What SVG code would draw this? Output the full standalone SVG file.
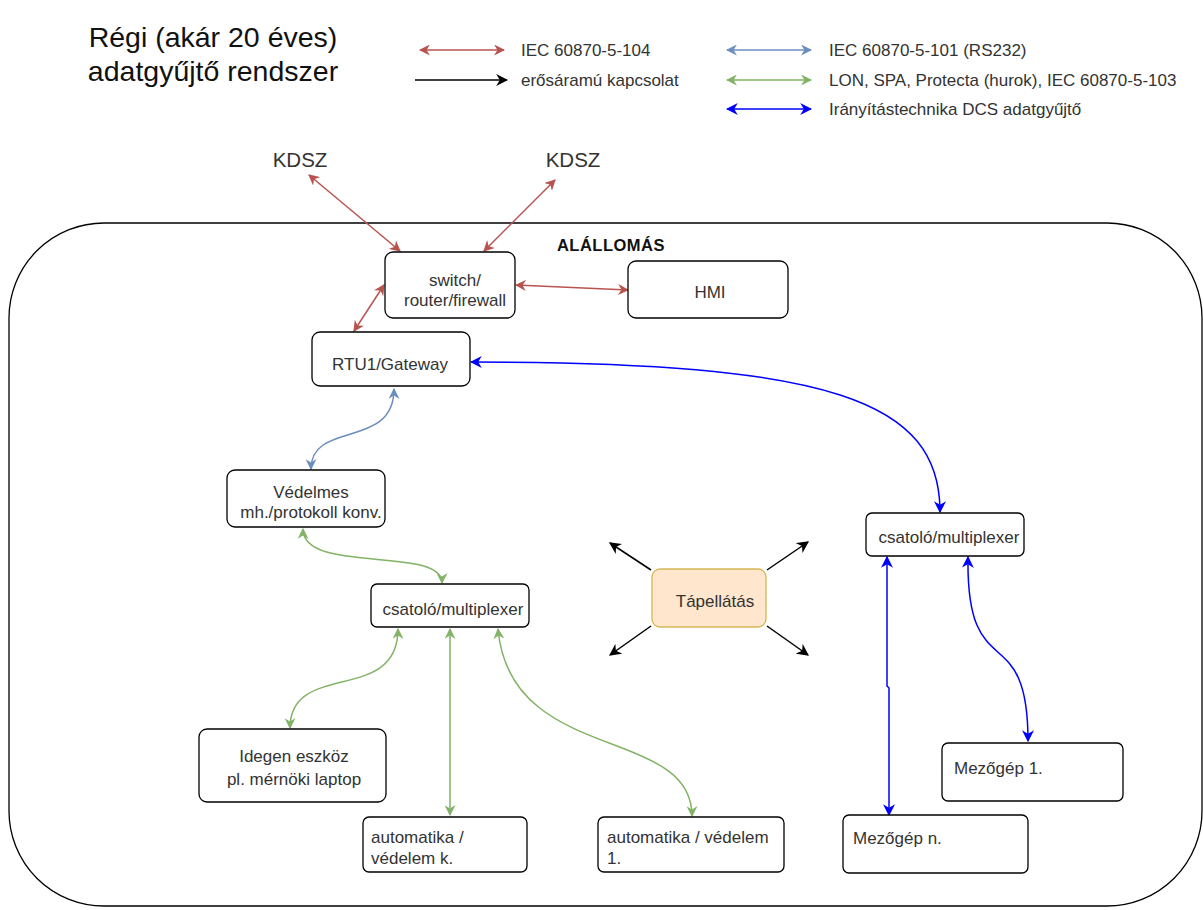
<svg xmlns="http://www.w3.org/2000/svg" width="1203" height="910" viewBox="0 0 1203 910">
  <style>
    .box { fill: #ffffff; stroke: #000000; stroke-width: 1.3; }
    .t { font-family: "Liberation Sans", Arial, sans-serif; font-size: 17px; fill: #333333; }
    .c { text-anchor: middle; }
    .kd { font-size: 20.5px; }
    .red { fill: none; stroke: #b85450; stroke-width: 1.5; marker-start: url(#mRed); marker-end: url(#mRed); }
    .rs { fill: none; stroke: #6c8ebf; stroke-width: 1.5; marker-start: url(#mRs); marker-end: url(#mRs); }
    .grn { fill: none; stroke: #82b366; stroke-width: 1.5; marker-start: url(#mGrn); marker-end: url(#mGrn); }
    .dcs { fill: none; stroke: #0000ff; stroke-width: 1.5; marker-start: url(#mDcs); marker-end: url(#mDcs); }
    .pwr { fill: none; stroke: #000000; stroke-width: 1.5; marker-end: url(#mBlk); }
  </style>
  <defs>
    <marker id="mRed" viewBox="0 0 10 10" refX="9" refY="5" markerWidth="11" markerHeight="11" markerUnits="userSpaceOnUse" orient="auto-start-reverse">
      <path d="M0,0 L10,5 L0,10 L3,5 Z" fill="#b85450"/>
    </marker>
    <marker id="mRs" viewBox="0 0 10 10" refX="9" refY="5" markerWidth="11" markerHeight="11" markerUnits="userSpaceOnUse" orient="auto-start-reverse">
      <path d="M0,0 L10,5 L0,10 L3,5 Z" fill="#6c8ebf"/>
    </marker>
    <marker id="mGrn" viewBox="0 0 10 10" refX="9" refY="5" markerWidth="11" markerHeight="11" markerUnits="userSpaceOnUse" orient="auto-start-reverse">
      <path d="M0,0 L10,5 L0,10 L3,5 Z" fill="#82b366"/>
    </marker>
    <marker id="mDcs" viewBox="0 0 10 10" refX="9" refY="5" markerWidth="12" markerHeight="12" markerUnits="userSpaceOnUse" orient="auto-start-reverse">
      <path d="M0,0 L10,5 L0,10 L3,5 Z" fill="#0000ff"/>
    </marker>
    <marker id="mBlk" viewBox="0 0 10 10" refX="9" refY="5" markerWidth="12" markerHeight="12" markerUnits="userSpaceOnUse" orient="auto-start-reverse">
      <path d="M0,0 L10,5 L0,10 L3,5 Z" fill="#000000"/>
    </marker>
  </defs>

  <rect width="1203" height="910" fill="#ffffff"/>

  <!-- Title -->
  <g id="title" font-family="Liberation Sans, Arial, sans-serif" font-size="28.5" fill="#111111" text-anchor="middle">
    <text x="213" y="47">Régi (akár 20 éves)</text>
    <text x="213" y="81">adatgyűjtő rendszer</text>
  </g>

  <!-- Legend -->
  <g id="legend">
    <line class="red" x1="420" y1="50" x2="504" y2="50"/>
    <text class="t" x="521" y="56">IEC 60870-5-104</text>
    <line class="pwr" x1="415" y1="80" x2="507" y2="80"/>
    <text class="t" x="521" y="86">erősáramú kapcsolat</text>
    <line class="rs" x1="727" y1="50" x2="811" y2="50"/>
    <text class="t" x="829" y="56">IEC 60870-5-101 (RS232)</text>
    <line class="grn" x1="727" y1="80" x2="811" y2="80"/>
    <text class="t" x="829" y="86">LON, SPA, Protecta (hurok), IEC 60870-5-103</text>
    <line class="dcs" x1="727" y1="109" x2="811" y2="109"/>
    <text class="t" x="829" y="115">Irányítástechnika DCS adatgyűjtő</text>
  </g>

  <!-- Substation boundary -->
  <g id="alallomas">
    <rect x="9" y="223" width="1193" height="683" rx="95" ry="95" fill="none" stroke="#000000" stroke-width="1.3"/>
    <text x="611" y="251" font-family="Liberation Sans, Arial, sans-serif" font-size="16.5" font-weight="bold" letter-spacing="0.5" fill="#111111" text-anchor="middle">ALÁLLOMÁS</text>
  </g>

  <!-- External links -->
  <g id="kdsz1"><text class="t c kd" x="300" y="167">KDSZ</text></g>
  <g id="kdsz2"><text class="t c kd" x="573" y="167">KDSZ</text></g>

  <!-- Connectors -->
  <g id="connectors">
    <line class="red" x1="309" y1="175" x2="400" y2="251"/>
    <line class="red" x1="555" y1="180" x2="484" y2="251"/>
    <line class="red" x1="516" y1="285" x2="628" y2="290"/>
    <line class="red" x1="384" y1="285" x2="354" y2="331"/>
    <path class="rs" d="M394,389 C394,450 311,420 311,469"/>
    <path class="grn" d="M303,529 C303,575 442,545 442,583"/>
    <path class="grn" d="M398,629 C398,705 290,660 290,728"/>
    <line class="grn" x1="450" y1="629" x2="450" y2="815"/>
    <path class="grn" d="M498,629 C510,765 692,725 692,816"/>
    <path class="dcs" d="M471,362 C830,362 940,400 940,512"/>
    <path class="dcs" d="M887,557 L887,686 L889,688 L889,815"/>
    <path class="dcs" d="M968,557 C966,690 1028,615 1028,741"/>
    <line class="pwr" x1="651" y1="570" x2="610" y2="543"/>
    <line class="pwr" x1="767" y1="570" x2="808" y2="542"/>
    <line class="pwr" x1="651" y1="626" x2="610" y2="655"/>
    <line class="pwr" x1="767" y1="626" x2="808" y2="655"/>
  </g>

  <!-- Nodes -->
  <g id="switch">
    <rect class="box" x="385" y="252" width="130" height="66" rx="8"/>
    <text class="t c" x="455" y="286">switch/</text>
    <text class="t c" x="455" y="306">router/firewall</text>
  </g>
  <g id="hmi">
    <rect class="box" x="628" y="261" width="160" height="57" rx="8"/>
    <text class="t c" x="710" y="298">HMI</text>
  </g>
  <g id="rtu">
    <rect class="box" x="312" y="332" width="158" height="54" rx="8"/>
    <text class="t c" x="390" y="370">RTU1/Gateway</text>
  </g>
  <g id="vedelmes">
    <rect class="box" x="227" y="470" width="158" height="57" rx="8"/>
    <text class="t c" x="311" y="498">Védelmes</text>
    <text class="t c" x="311" y="518">mh./protokoll konv.</text>
  </g>
  <g id="mux1">
    <rect class="box" x="371" y="584" width="158" height="43" rx="6"/>
    <text class="t c" x="453" y="615">csatoló/multiplexer</text>
  </g>
  <g id="tapellatas">
    <rect x="652" y="569" width="114" height="58" rx="8" fill="#ffe6cc" stroke="#d6b656" stroke-width="1.3"/>
    <text class="t c" x="715" y="607">Tápellátás</text>
  </g>
  <g id="mux2">
    <rect class="box" x="866" y="513" width="158" height="43" rx="6"/>
    <text class="t c" x="949" y="543">csatoló/multiplexer</text>
  </g>
  <g id="idegen">
    <rect class="box" x="199" y="729" width="187" height="73" rx="8"/>
    <text class="t c" x="294" y="762">Idegen eszköz</text>
    <text class="t c" x="294" y="785">pl. mérnöki laptop</text>
  </g>
  <g id="autk">
    <rect class="box" x="363" y="817" width="164" height="55" rx="6"/>
    <text class="t" x="371" y="843">automatika /</text>
    <text class="t" x="371" y="864">védelem k.</text>
  </g>
  <g id="aut1">
    <rect class="box" x="598" y="817" width="186" height="55" rx="6"/>
    <text class="t" x="607" y="843">automatika / védelem</text>
    <text class="t" x="607" y="864">1.</text>
  </g>
  <g id="mezogep1">
    <rect class="box" x="942" y="743" width="181" height="58" rx="6"/>
    <text class="t" x="954" y="774">Mezőgép 1.</text>
  </g>
  <g id="mezogepn">
    <rect class="box" x="843" y="815" width="185" height="58" rx="6"/>
    <text class="t" x="853" y="844">Mezőgép n.</text>
  </g>
</svg>
